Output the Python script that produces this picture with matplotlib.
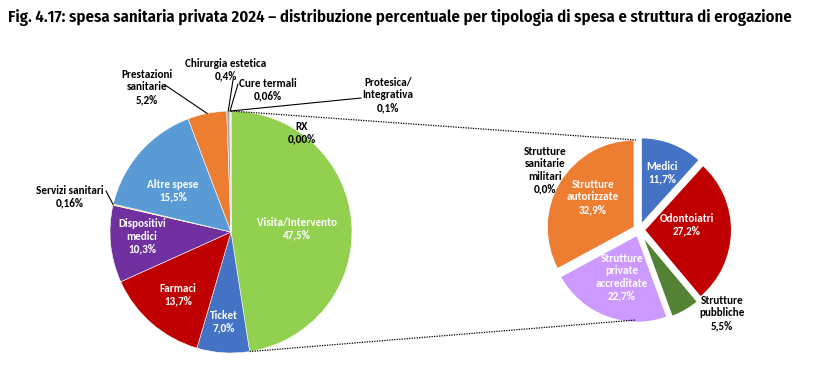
import numpy as np
import matplotlib.pyplot as plt
from matplotlib import font_manager

names = {f.name for f in font_manager.fontManager.ttflist}


def pick(prefs):
    for p in prefs:
        if p in names:
            return p
    return 'DejaVu Sans'


label_font = pick(['Carlito', 'Calibri', 'Open Sans', 'Noto Sans'])
title_font = pick(['Fira Sans Condensed', 'Open Sans Condensed', 'Roboto Condensed',
                   'PT Sans Narrow', 'Archivo Narrow', 'Carlito'])
plt.rcParams['font.family'] = [label_font, 'DejaVu Sans']

title = ("Fig. 4.17: spesa sanitaria privata 2024 \u2013 distribuzione percentuale "
         "per tipologia di spesa e struttura di erogazione")

# main pie (clockwise from top)
main_labels = ['Visita/Intervento', 'Ticket', 'Farmaci', 'Dispositivi\nmedici',
               'Servizi sanitari', 'Altre spese', 'Prestazioni\nsanitarie',
               'Chirurgia estetica', 'Cure termali', 'Protesica/\nIntegrativa', 'RX']
main_values = [47.5, 7.0, 13.7, 10.3, 0.16, 15.5, 5.2, 0.4, 0.06, 0.1, 0.0]
main_decimals = [1, 1, 1, 1, 2, 1, 1, 1, 2, 1, 2]
main_colors = ['#92D050', '#4472C4', '#C00000', '#7030A0', '#FFC000', '#5B9BD5',
               '#ED7D31', '#A5A5A5', '#264478', '#9E480E', '#8FAADC']

# secondary pie: breakdown of Visita/Intervento
sub_labels = ['Medici', 'Odontoiatri', 'Strutture\npubbliche',
              'Strutture\nprivate\naccreditate', 'Strutture\nautorizzate',
              'Strutture\nsanitarie\nmilitari']
sub_values = [11.7, 27.2, 5.5, 22.7, 32.9, 0.0]
sub_colors = ['#4472C4', '#C00000', '#548235', '#CC99FF', '#ED7D31', '#A5A5A5']

W, H = 817, 382
fig = plt.figure(figsize=(W / 100, H / 100), dpi=100)
ax = fig.add_axes([0, 0, 1, 1])


def py(y):
    # image row -> data y
    return H - y


def fmt(v, d):
    return f"{v:.{d}f}".replace('.', ',') + '%'


c1, r1 = (231, py(232)), 121
c2, r2 = (639, py(230)), 88

w1, _ = ax.pie(main_values, colors=main_colors, startangle=90, counterclock=False,
               center=c1, radius=r1, wedgeprops=dict(edgecolor='white', linewidth=0.4))
w2, _ = ax.pie(sub_values, colors=sub_colors, startangle=90, counterclock=False,
               center=c2, radius=r2, explode=[5] * len(sub_values),
               wedgeprops=dict(edgecolor='white', linewidth=1.5))

# label layout: (x, y in image px, color, leader anchor or None)
main_pos = [(297, 229, 'white', None), (224, 322, 'white', None),
            (178, 295, 'white', None), (142, 236, 'white', None),
            (70, 197, 'black', (106, 191)), (173, 191, 'white', None),
            (147, 87, 'black', (165, 85)), (226, 70, 'black', (233, 80)),
            (268, 90, 'black', (238, 84)), (388, 95, 'black', (361, 98)),
            (302, 133, 'black', None)]

fs = 8
for w, lab, v, d, (x, y, col, anc) in zip(w1, main_labels, main_values, main_decimals, main_pos):
    ax.text(x, py(y), f"{lab}\n{fmt(v, d)}", ha='center', va='center', color=col,
            fontsize=fs, fontweight='bold', linespacing=1.15)
    if anc is not None:
        t = np.deg2rad((w.theta1 + w.theta2) / 2)
        ex = w.center[0] + w.r * np.cos(t)
        ey = w.center[1] + w.r * np.sin(t)
        ax.plot([anc[0], ex], [py(anc[1]), ey], color='black', lw=0.8)

sub_pos = [(662, 173, 'white'), (687, 225, 'white'), (722, 313, 'black'),
           (622, 277, 'white'), (593, 197, 'white'), (545, 170, 'black')]
for lab, v, (x, y, col) in zip(sub_labels, sub_values, sub_pos):
    ax.text(x, py(y), f"{lab}\n{fmt(v, 1)}", ha='center', va='center', color=col,
            fontsize=fs, fontweight='bold', linespacing=1.15)

# dotted connectors from the Visita slice to the secondary pie
vis = w1[0]
for ang, sy in [(vis.theta2, 1), (vis.theta1, -1)]:
    a = np.deg2rad(ang)
    x0 = c1[0] + r1 * np.cos(a)
    y0 = c1[1] + r1 * np.sin(a)
    ax.plot([x0, c2[0] - 3], [y0, c2[1] + sy * (r2 + 2)], color='black', lw=0.9,
            linestyle=(0, (1, 1)))

tt = ax.text(8, py(17), title, ha='left', va='center', fontsize=12.5,
             fontweight='semibold', family=[title_font, 'DejaVu Sans'])

ax.set_xlim(0, W)
ax.set_ylim(0, H)
ax.set_aspect('auto')
ax.axis('off')

# fit title width to the reference span
fig.canvas.draw()
tw = tt.get_window_extent().width
tt.set_fontsize(12.5 * 782 / tw)

fig.savefig('out.png', dpi=100)
